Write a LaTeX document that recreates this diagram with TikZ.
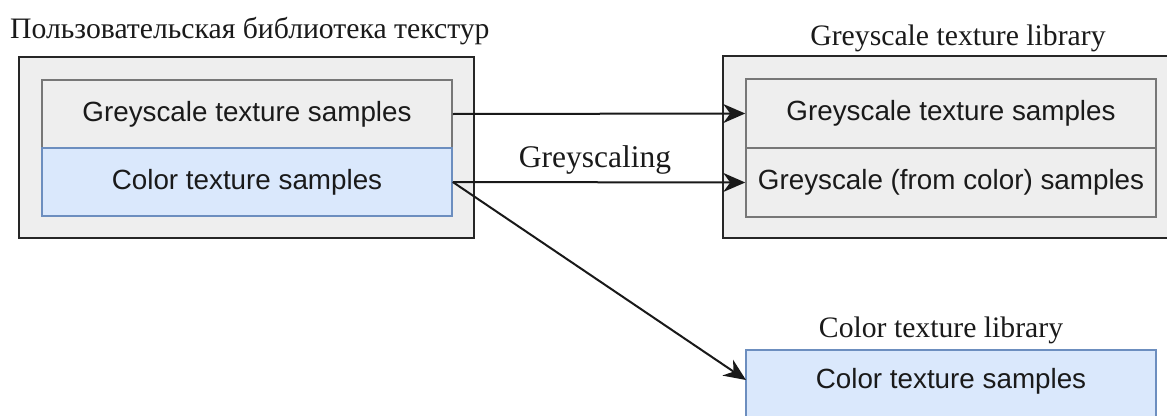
\documentclass[tikz,border=0pt]{standalone}
\usepackage{fontspec}
\setmainfont{Liberation Serif}
\newfontfamily\boxfont{Liberation Sans}
\usetikzlibrary{arrows.meta}
\definecolor{greyfill}{HTML}{EEEEEE}
\definecolor{greyline}{HTML}{777777}
\definecolor{bluefill}{HTML}{DAE8FC}
\definecolor{blueline}{HTML}{6C8EBF}
\definecolor{txt}{HTML}{1A1A1A}
\tikzset{
  outerbox/.style={draw=black!85, fill=greyfill, line width=2pt},
  greyitem/.style={draw=greyline, fill=greyfill, line width=1.5pt},
  blueitem/.style={draw=blueline, fill=bluefill, line width=1.5pt},
  boxlabel/.style={font=\boxfont\fontsize{27.8}{32}\selectfont, text=txt, inner sep=0pt},
  titlelabel/.style={font=\fontsize{29.7}{34}\selectfont, text=txt, inner sep=0pt},
  conn/.style={line width=2pt, draw=black!90, -{Stealth[length=22pt,width=19pt,inset=7pt]}},
}
\begin{document}
\begin{tikzpicture}[x=1pt,y=-1pt]
\clip (0,0) rectangle (1167,415);
\fill[white] (0,0) rectangle (1167,415);
% left library
\node[titlelabel, anchor=base west] (t1) at (10,38) {Пользовательская библиотека текстур};
\draw[outerbox] (19,57) rectangle (474,238);
\node[greyitem, minimum width=410pt, minimum height=68pt, inner sep=0pt] (lg) at (247,114) {};
\node[blueitem, minimum width=410pt, minimum height=68pt, inner sep=0pt] (lc) at (247,182) {};
\node[boxlabel] at (lg.center) {Greyscale texture samples};
\node[boxlabel] at (lc.center) {Color texture samples};
% greyscale library
\node[titlelabel, anchor=base] (t2) at (958,45) {Greyscale texture library};
\draw[outerbox] (723,56) rectangle (1190,238);
\node[greyitem, minimum width=410pt, minimum height=69pt, inner sep=0pt] (rg) at (951,113.5) {};
\node[greyitem, minimum width=410pt, minimum height=69pt, inner sep=0pt] (rc) at (951,182.5) {};
\node[boxlabel] at (rg.center) {Greyscale texture samples};
\node[boxlabel] at (rc.center) {Greyscale (from color) samples};
% color library
\node[titlelabel, anchor=base] (t3) at (941,337) {Color texture library};
\node[blueitem, minimum width=410pt, minimum height=70pt, inner sep=0pt] (cc) at (951,385) {};
\node[boxlabel] at (951,381) {Color texture samples};
% connectors
\draw[conn] (lg.east) -- (rg.west);
\draw[conn] (lc.east) -- (rc.west);
\coordinate (cin) at (746,380);
\draw[conn] (lc.east) -- (cin);
\node[titlelabel, font=\fontsize{31.5}{36}\selectfont] (gl) at (595,160) {Greyscaling};
\end{tikzpicture}
\end{document}
